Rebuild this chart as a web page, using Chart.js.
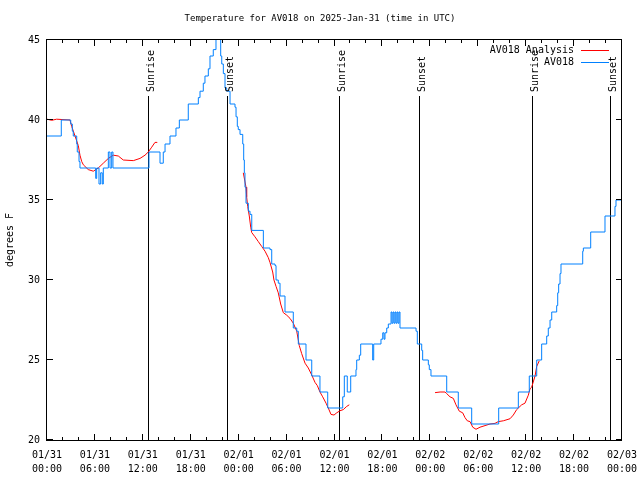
<!DOCTYPE html>
<html><head><meta charset="utf-8">
<script src="https://cdn.jsdelivr.net/npm/chart.js@4.4.1/dist/chart.umd.min.js"></script>
<style>html,body{margin:0;padding:0;background:#fff}</style>
</head><body>
<canvas id="c" width="640" height="480"></canvas>
<script>
// ---------- data (x = hours since 2025-01-31 00:00 UTC) ----------
const titleText = 'Temperature for AV018 on 2025-Jan-31 (time in UTC)';
const yAxisTitle = 'degrees F';

const xTickHours = [0, 6, 12, 18, 24, 30, 36, 42, 48, 54, 60, 66, 72];
const xTickLabels = [
  ['01/31','00:00'], ['01/31','06:00'], ['01/31','12:00'], ['01/31','18:00'],
  ['02/01','00:00'], ['02/01','06:00'], ['02/01','12:00'], ['02/01','18:00'],
  ['02/02','00:00'], ['02/02','06:00'], ['02/02','12:00'], ['02/02','18:00'],
  ['02/03','00:00']
];
const yTickValues = [20, 25, 30, 35, 40, 45];

const eventNames = ['Sunrise', 'Sunset', 'Sunrise', 'Sunset', 'Sunrise', 'Sunset'];
const eventHours = [12.68, 22.58, 36.60, 46.62, 60.67, 70.54];

const obsLabel = 'AV018';
const obsHours = [0,1.79,2.97,3.17,3.29,3.72,3.79,4.01,4.13,
  6.10,6.22,6.51,6.72,6.92,7.05,7.68,7.89,8.10,8.26,
  12.77,14.15,14.56,14.78,15.40,16.15,16.57,17.69,18.95,19.16,19.57,19.78,20.20,20.41,20.82,21.16,
  21.75,21.88,22.08,22.29,22.50,22.92,23.54,23.67,23.83,23.95,24.17,24.51,24.63,24.71,24.79,24.92,25.21,25.42,25.64,
  27.09,27.92,28.14,28.55,28.68,28.96,29.18,29.80,30.84,31.27,31.47,32.43,33.15,34.18,35.15,
  37.03,37.23,37.60,38.03,38.69,38.78,39.11,39.28,40.78,40.91,41.82,42.04,42.20,42.32,42.54,42.74,
  43.08,43.20,43.33,43.45,43.58,43.70,43.83,43.95,44.08,44.20,
  46.21,46.37,46.92,47.04,47.75,47.87,48.08,50.05,51.50,53.18,56.56,59.02,60.39,61.32,61.94,62.57,62.77,62.99,63.20,
  63.82,63.95,64.07,64.24,64.36,67.08,67.16,68.08,69.87,71.12,71.25,72.00];
const obsValues = [39,40,39.75,39.3,39,38.5,38,37.4,37,
  36.35,37,36,36.7,36,37,38,37,38,37,
  38,37.3,38,38.5,39,39.5,40,41,41.4,41.8,42.3,42.75,43.2,44,44.4,45.5,
  44,43.5,42.9,42,41.8,41,40.8,40.2,39.6,39.4,39.1,38.5,37.5,36.7,35.8,34.8,34.3,34.1,33.1,
  32,31.9,31,30.9,30,29.8,29,28,27,26.8,26,25,24,23,22,
  22.7,24,23,24,24.4,25,25.3,26,25,26,26.3,26.7,26.3,26.7,27,27.25,
  28,27.3,28,27.3,28,27.3,28,27.3,28,27,
  26.8,26,25.6,25,24.7,24.4,24,23,22,21,22,23,24,25,26,26.5,27,27.5,28,
  28.4,29.2,29.75,30.4,31,31.8,32,33,34,34.6,35,35];

const anaLabel = 'AV018 Analysis';
const anaHours = [0,0.59,1.2,2.88,3.09,3.51,3.92,4.13,4.35,4.55,5.17,5.80,6.42,7.05,7.68,8.30,8.93,9.55,10.81,11.65,12.27,12.68,13.11,13.52,13.81,
  19,
  24.58,24.92,25.0,25.13,25.33,25.51,25.63,26.04,26.46,26.88,27.30,27.71,27.92,28.26,28.42,28.68,28.96,29.26,29.59,30.02,30.43,30.84,31.27,31.59,31.89,32.31,32.72,33.15,33.56,33.85,34.18,34.52,34.94,35.22,35.56,35.94,36.28,36.69,37.10,37.53,37.85,
  42,
  48.59,49.22,49.84,50.05,50.46,50.88,51.21,51.63,52.05,52.34,52.63,52.97,53.31,53.72,54.22,54.85,55.47,56.10,56.51,57.14,57.98,58.39,58.81,59.44,59.85,60.27,60.48,60.69,61.11,61.32,61.64];
const anaValues = [40.05,39.98,40.05,40.0,39.6,39.0,38.4,37.8,37.4,37.2,36.9,36.8,37.0,37.3,37.6,37.8,37.75,37.5,37.46,37.6,37.8,38.0,38.3,38.6,38.6,
  null,
  36.7,35.8,35.2,34.6,34.0,33.3,32.97,32.7,32.4,32.1,31.8,31.4,31.1,30.5,30.0,29.6,29.2,28.5,27.96,27.8,27.6,27.3,26.8,25.9,25.4,24.8,24.5,24.06,23.6,23.4,23.0,22.7,22.3,22.0,21.6,21.56,21.7,21.83,21.9,22.1,22.2,
  null,
  22.96,23.0,23.0,22.9,22.7,22.6,22.2,21.8,21.7,21.4,21.2,21.15,20.8,20.67,20.8,20.9,21.0,21.04,21.15,21.2,21.33,21.56,21.9,22.2,22.3,22.8,23.2,23.3,24.0,24.6,24.95];

// ---------- styling ----------
const FONT = '"DejaVu Sans Mono", "Liberation Mono", monospace';
const RED = '#ff0000';
const BLUE = '#0080ff';
const X_MIN = 0, X_MAX = 72, X_MINOR_STEP = 2;
const Y_MIN = 20, Y_MAX = 45;
const EVENT_LINE_TOP = 41.5;

const pairs = (xs, ys) => xs.map((x, i) => ({x: x, y: ys[i]}));

const decor = {
  id: 'decor',
  beforeDatasetsDraw(chart) {
    const {ctx, chartArea: a, scales: {x, y}} = chart;
    ctx.save();
    ctx.beginPath();
    ctx.rect(a.left, a.top, a.right - a.left, a.bottom - a.top);
    ctx.clip();
    ctx.strokeStyle = '#000';
    ctx.lineWidth = 1;
    const yTop = y.getPixelForValue(EVENT_LINE_TOP);
    eventHours.forEach(h => {
      const px = Math.round(x.getPixelForValue(h)) + 0.5;
      ctx.beginPath();
      ctx.moveTo(px, yTop);
      ctx.lineTo(px, a.bottom);
      ctx.stroke();
    });
    ctx.restore();
  },
  afterDraw(chart) {
    const {ctx, chartArea: a, scales: {x, y}} = chart;
    ctx.save();
    ctx.strokeStyle = '#000';
    ctx.fillStyle = '#000';
    ctx.lineWidth = 1;
    ctx.strokeRect(a.left - 0.5, a.top - 0.5, a.right - a.left, a.bottom - a.top + 1);
    const tick = (px, len, vertical) => {
      ctx.beginPath();
      if (vertical) {
        ctx.moveTo(px, a.bottom); ctx.lineTo(px, a.bottom - len);
        ctx.moveTo(px, a.top); ctx.lineTo(px, a.top + len);
      } else {
        ctx.moveTo(a.left, px); ctx.lineTo(a.left + len, px);
        ctx.moveTo(a.right, px); ctx.lineTo(a.right - len, px);
      }
      ctx.stroke();
    };
    for (let h = X_MIN; h <= X_MAX; h += X_MINOR_STEP) {
      const px = Math.round(x.getPixelForValue(h)) - 0.5;
      tick(px, xTickHours.includes(h) ? 6 : 3, true);
    }
    yTickValues.forEach(v => tick(Math.round(y.getPixelForValue(v)) - 0.5, 6, false));

    // title
    ctx.font = '9px ' + FONT;
    ctx.textAlign = 'center';
    ctx.textBaseline = 'middle';
    ctx.fillText(titleText, 320, 19);
    ctx.font = '10px ' + FONT;
    // y-axis title
    ctx.save();
    ctx.translate(10, (a.top + a.bottom) / 2);
    ctx.rotate(-Math.PI / 2);
    ctx.fillText(yAxisTitle, 0, 0);
    ctx.restore();
    // event labels
    const yLab = y.getPixelForValue(EVENT_LINE_TOP) - 4;
    eventHours.forEach((h, i) => {
      const px = Math.round(x.getPixelForValue(h)) + 0.5;
      ctx.save();
      ctx.translate(px + 5, yLab);
      ctx.rotate(-Math.PI / 2);
      ctx.textAlign = 'left';
      ctx.textBaseline = 'alphabetic';
      ctx.fillText(eventNames[i], 0, 0);
      ctx.restore();
    });
    // legend
    ctx.textAlign = 'right';
    ctx.textBaseline = 'middle';
    chart.data.datasets.forEach((ds, i) => {
      const ly = a.top + 10 + i * 12;
      ctx.fillStyle = '#000';
      ctx.fillText(ds.label, a.right - 48, ly);
      ctx.strokeStyle = ds.borderColor;
      ctx.beginPath();
      ctx.moveTo(a.right - 41, Math.round(ly) + 0.5);
      ctx.lineTo(a.right - 13, Math.round(ly) + 0.5);
      ctx.stroke();
    });
    ctx.restore();
  }
};

new Chart(document.getElementById('c'), {
  type: 'line',
  data: {
    datasets: [
      {label: anaLabel, data: pairs(anaHours, anaValues), borderColor: RED, borderWidth: 1,
       pointRadius: 0, spanGaps: false, tension: 0, order: 1},
      {label: obsLabel, data: pairs(obsHours, obsValues), borderColor: BLUE, borderWidth: 1,
       pointRadius: 0, stepped: true, order: 0}
    ]
  },
  options: {
    responsive: false,
    animation: false,
    events: [],
    layout: {padding: {top: 40, right: 18, left: 0, bottom: 0}},
    plugins: {legend: {display: false}, title: {display: false}, tooltip: {enabled: false}},
    scales: {
      x: {
        type: 'linear', min: X_MIN, max: X_MAX,
        grid: {display: false, drawTicks: false, tickLength: 0}, border: {display: false},
        afterBuildTicks: s => { s.ticks = xTickHours.map(v => ({value: v})); },
        afterFit: s => { s.height = 40; s.paddingLeft = 0; s.paddingRight = 0; },
        ticks: {
          autoSkip: false, maxRotation: 0, padding: 8, color: '#000',
          font: {family: FONT, size: 10, lineHeight: 1.4},
          callback: v => xTickLabels[xTickHours.indexOf(v)]
        }
      },
      y: {
        min: Y_MIN, max: Y_MAX,
        grid: {display: false, drawTicks: false, tickLength: 0}, border: {display: false},
        afterBuildTicks: s => { s.ticks = yTickValues.map(v => ({value: v})); },
        afterFit: s => { s.width = 47; s.paddingTop = 0; s.paddingBottom = 0; },
        ticks: {padding: 7, color: '#000', font: {family: FONT, size: 10}}
      }
    }
  },
  plugins: [decor]
});
</script>
</body></html>
